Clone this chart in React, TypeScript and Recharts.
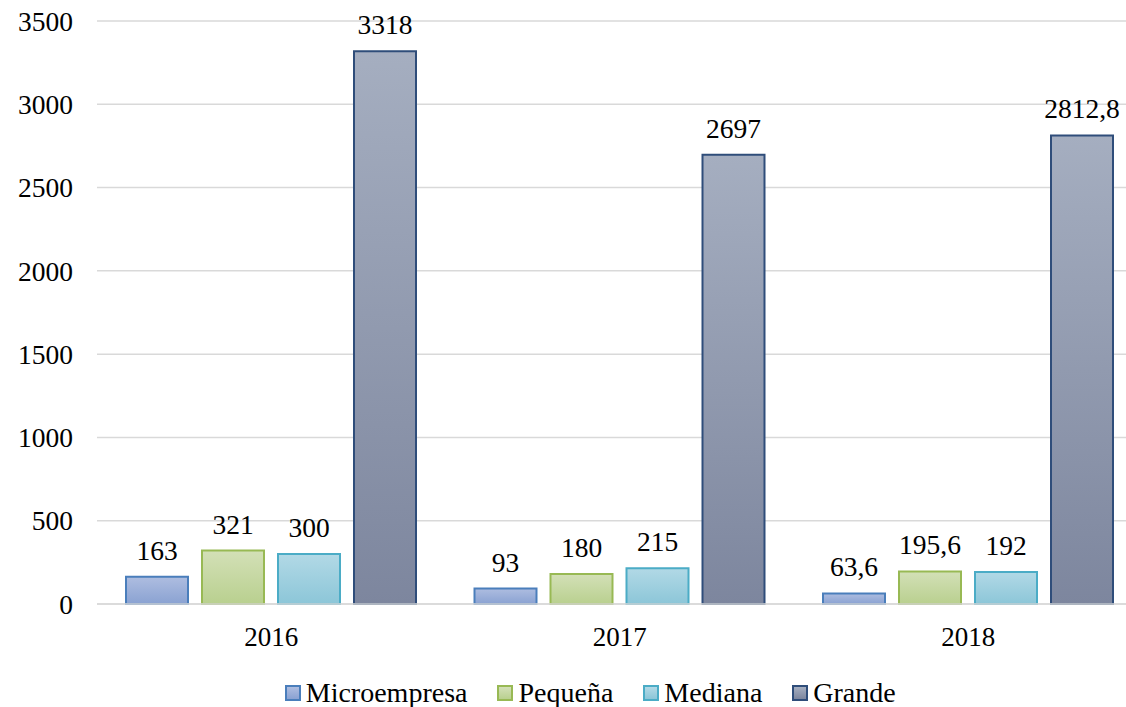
import {
  BarChart,
  Bar,
  XAxis,
  YAxis,
  CartesianGrid,
  Legend,
  LabelList,
} from "recharts";

const YEARS = ["2016", "2017", "2018"];
const MICRO = [163, 93, 63.6];
const PEQUENA = [321, 180, 195.6];
const MEDIANA = [300, 215, 192];
const GRANDE = [3318, 2697, 2812.8];
const Y_TICKS = [0, 500, 1000, 1500, 2000, 2500, 3000, 3500];

const SERIES = [
  { key: "micro", name: "Microempresa", top: "#aebde0", bottom: "#8aa2d2", stroke: "#4a7ebb" },
  { key: "pequena", name: "Pequeña", top: "#d3e0b7", bottom: "#b9d08f", stroke: "#98b954" },
  { key: "mediana", name: "Mediana", top: "#b2d9e6", bottom: "#8cc6d8", stroke: "#4bacc6" },
  { key: "grande", name: "Grande", top: "#a5aec0", bottom: "#7d869e", stroke: "#2f4d7a" },
];

const data = YEARS.map((year, i) => ({
  year,
  micro: MICRO[i],
  pequena: PEQUENA[i],
  mediana: MEDIANA[i],
  grande: GRANDE[i],
}));

const FONT = "Liberation Serif";

const fmt = (v: any) => String(v).replace(".", ",");

const CustomLegend = () => (
  <div
    style={{
      display: "flex",
      justifyContent: "center",
      alignItems: "center",
      fontFamily: FONT,
      fontSize: 28,
      color: "#000",
      paddingLeft: 38,
    }}
  >
    {SERIES.map((s) => (
      <div key={s.key} style={{ display: "flex", alignItems: "center", margin: "0 15px" }}>
        <span
          style={{
            display: "inline-block",
            width: 12,
            height: 12,
            background: `linear-gradient(${s.top}, ${s.bottom})`,
            border: `2px solid ${s.stroke}`,
            marginRight: 5,
          }}
        />
        <span>{s.name}</span>
      </div>
    ))}
  </div>
);

export default function App() {
  return (
    <div
      style={{
        position: "fixed",
        left: 0,
        top: 0,
        width: 1126,
        height: 707,
        overflow: "hidden",
        background: "#fff",
        fontFamily: FONT,
      }}
    >
      <BarChart
        width={1180}
        height={707}
        data={data}
        margin={{ top: 21, right: 37.5, left: 0, bottom: 0 }}
        barSize={62}
        barGap={14}
      >
        <defs>
          {SERIES.map((s) => (
            <linearGradient key={s.key} id={`grad-${s.key}`} x1="0" y1="0" x2="0" y2="1">
              <stop offset="0%" stopColor={s.top} />
              <stop offset="100%" stopColor={s.bottom} />
            </linearGradient>
          ))}
        </defs>
        <CartesianGrid vertical={false} stroke="#d9d9d9" strokeWidth={1.5} />
        <XAxis
          dataKey="year"
          axisLine={{ stroke: "#d9d9d9", strokeWidth: 1.5 }}
          tickLine={false}
          tickSize={0}
          tickMargin={23}
          height={73}
          tick={{ fontFamily: FONT, fontSize: 27, fill: "#000" }}
        />
        <YAxis
          domain={[0, 3500]}
          ticks={Y_TICKS}
          axisLine={false}
          tickLine={false}
          tickSize={0}
          tickMargin={24}
          width={97}
          tick={{ fontFamily: FONT, fontSize: 27.5, fill: "#000" }}
        />
        <Legend verticalAlign="bottom" height={30} content={<CustomLegend />} />
        {SERIES.map((s) => (
          <Bar
            key={s.key}
            dataKey={s.key}
            name={s.name}
            fill={`url(#grad-${s.key})`}
            stroke={s.stroke}
            strokeWidth={2}
            isAnimationActive={false}
          >
            <LabelList
              dataKey={s.key}
              position="top"
              offset={17}
              formatter={fmt}
              fontFamily={FONT}
              fontSize={27.5}
              fill="#000"
            />
          </Bar>
        ))}
      </BarChart>
    </div>
  );
}
